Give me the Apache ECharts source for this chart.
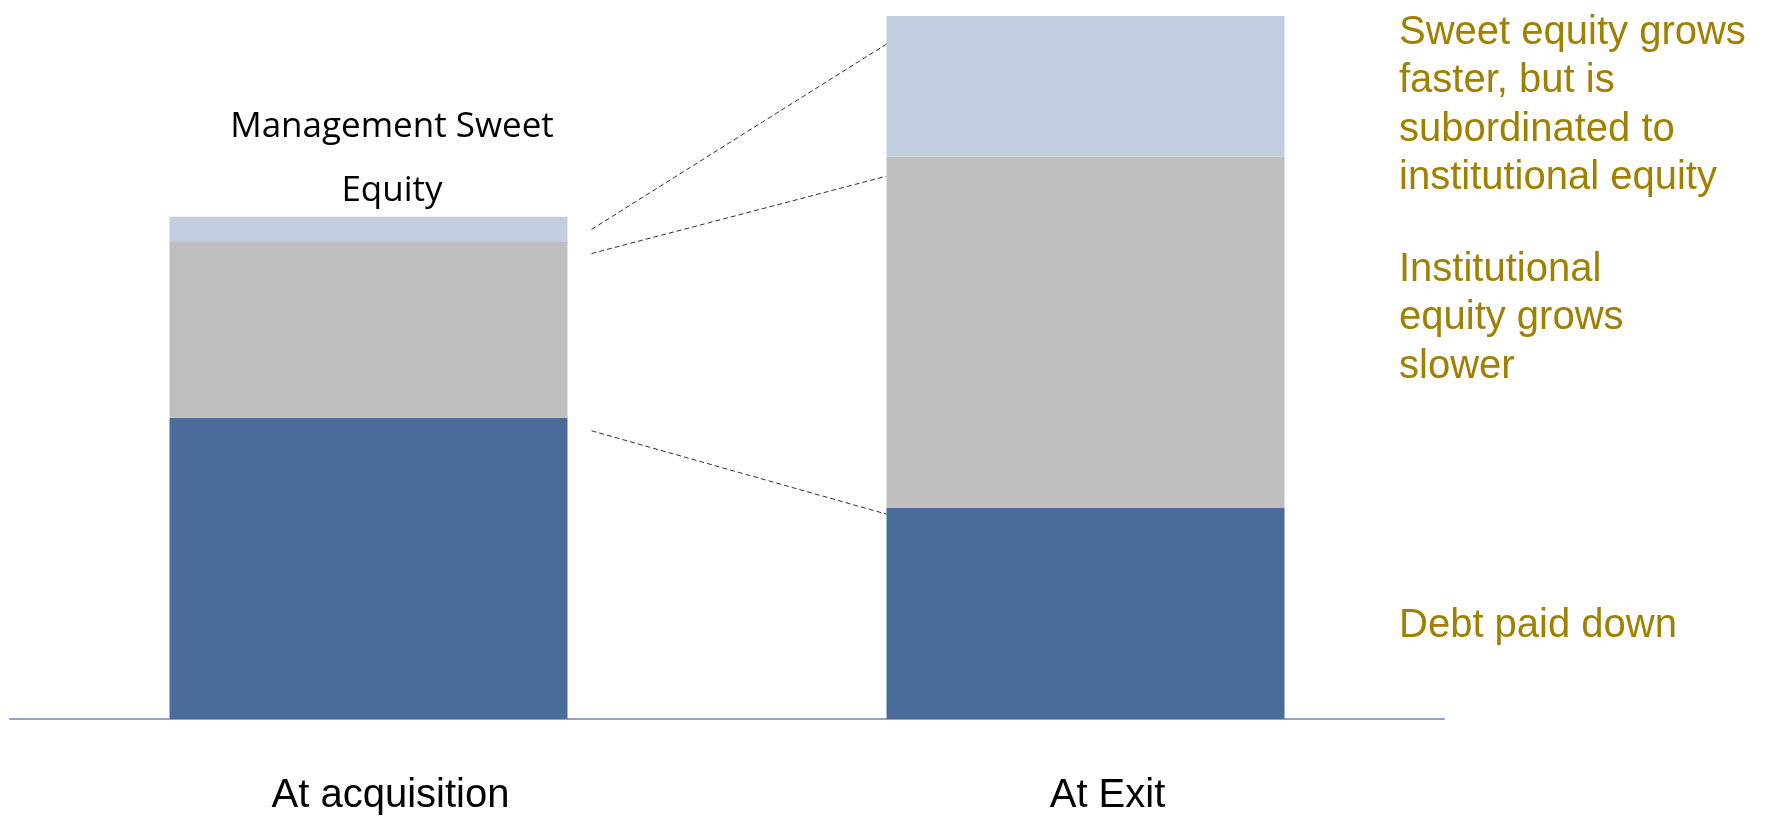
<!DOCTYPE html>
<html>
<head>
<meta charset="utf-8">
<style>
  html, body { margin: 0; padding: 0; background: #ffffff; }
  #chart { width: 1767px; height: 816px; }
</style>
<script src="https://cdn.jsdelivr.net/npm/echarts@6/dist/echarts.min.js"></script>
</head>
<body>
<div id="chart"></div>
<script>
// Capital structure of a buy-out, at acquisition and at exit
const categories = ['At acquisition', 'At Exit'];
const debt = [60, 42];
const institutionalEquity = [35, 70];
const sweetEquity = [5, 28];

// Dashed connectors between the two bars: [value at left bar, value at right bar]
const connectors = [
  [97.5, 134.4],
  [92.7, 108.1],
  [57.4, 40.8]
];

const annotationColor = '#A08000';
const barWidth = 398;

const chart = echarts.init(document.getElementById('chart'), null, { renderer: 'canvas' });

const option = {
  animation: false,
  backgroundColor: '#ffffff',
  grid: { left: 10, right: 323, top: 16, bottom: 97, containLabel: false },
  xAxis: {
    type: 'category',
    data: categories,
    axisLine: { show: true, lineStyle: { color: '#8EA3C7', width: 2 } },
    axisTick: { show: false },
    axisLabel: {
      fontFamily: 'Liberation Sans, Arial, sans-serif',
      fontSize: 40,
      lineHeight: 40,
      color: '#000000',
      margin: 57,
      padding: [0, 0, 0, 44]
    },
    splitLine: { show: false }
  },
  yAxis: {
    type: 'value',
    min: 0,
    max: 140,
    show: false
  },
  series: [
    {
      name: 'Debt',
      type: 'bar',
      stack: 'capital',
      barWidth: barWidth,
      data: debt,
      itemStyle: { color: '#4B6C9A' }
    },
    {
      name: 'Institutional equity',
      type: 'bar',
      stack: 'capital',
      barWidth: barWidth,
      data: institutionalEquity,
      itemStyle: { color: '#BFBFBF' }
    },
    {
      name: 'Management sweet equity',
      type: 'bar',
      stack: 'capital',
      barWidth: barWidth,
      data: sweetEquity,
      itemStyle: { color: '#C3CDE0' }
    }
  ]
};

chart.setOption(option);

// Connectors run from just right of the first bar to the left edge of the second
function connectorGraphics() {
  return connectors.map(function (c, i) {
    const p0 = chart.convertToPixel({ gridIndex: 0 }, [0, c[0]]);
    const p1 = chart.convertToPixel({ gridIndex: 0 }, [1, c[1]]);
    return {
      type: 'line',
      id: 'connector' + i,
      shape: {
        x1: p0[0] + barWidth / 2 + 24,
        y1: p0[1],
        x2: p1[0] - barWidth / 2,
        y2: p1[1]
      },
      style: { stroke: '#333333', lineWidth: 1, lineDash: [5, 3] },
      silent: true
    };
  });
}

const textFont = 'Liberation Sans, Arial, sans-serif';

chart.setOption({
  graphic: connectorGraphics().concat([
    {
      type: 'text',
      id: 'sweetLabel',
      x: 392,
      y: 95,
      style: {
        text: 'Management Sweet\nEquity',
        fontFamily: 'Open Sans, sans-serif',
        fontSize: 35,
        lineHeight: 64,
        fill: '#000000',
        align: 'center',
        verticalAlign: 'top'
      }
    },
    {
      type: 'text',
      id: 'noteSweet',
      x: 1399,
      y: 9,
      style: {
        text: 'Sweet equity grows\nfaster, but is\nsubordinated to\ninstitutional equity',
        fontFamily: textFont,
        fontSize: 40,
        lineHeight: 48.3,
        fill: annotationColor,
        verticalAlign: 'top'
      }
    },
    {
      type: 'text',
      id: 'noteInstitutional',
      x: 1399,
      y: 246,
      style: {
        text: 'Institutional\nequity grows\nslower',
        fontFamily: textFont,
        fontSize: 40,
        lineHeight: 48.3,
        fill: annotationColor,
        verticalAlign: 'top'
      }
    },
    {
      type: 'text',
      id: 'noteDebt',
      x: 1399,
      y: 602,
      style: {
        text: 'Debt paid down',
        fontFamily: textFont,
        fontSize: 40,
        lineHeight: 48.3,
        fill: annotationColor,
        verticalAlign: 'top'
      }
    }
  ])
});
</script>
</body>
</html>
